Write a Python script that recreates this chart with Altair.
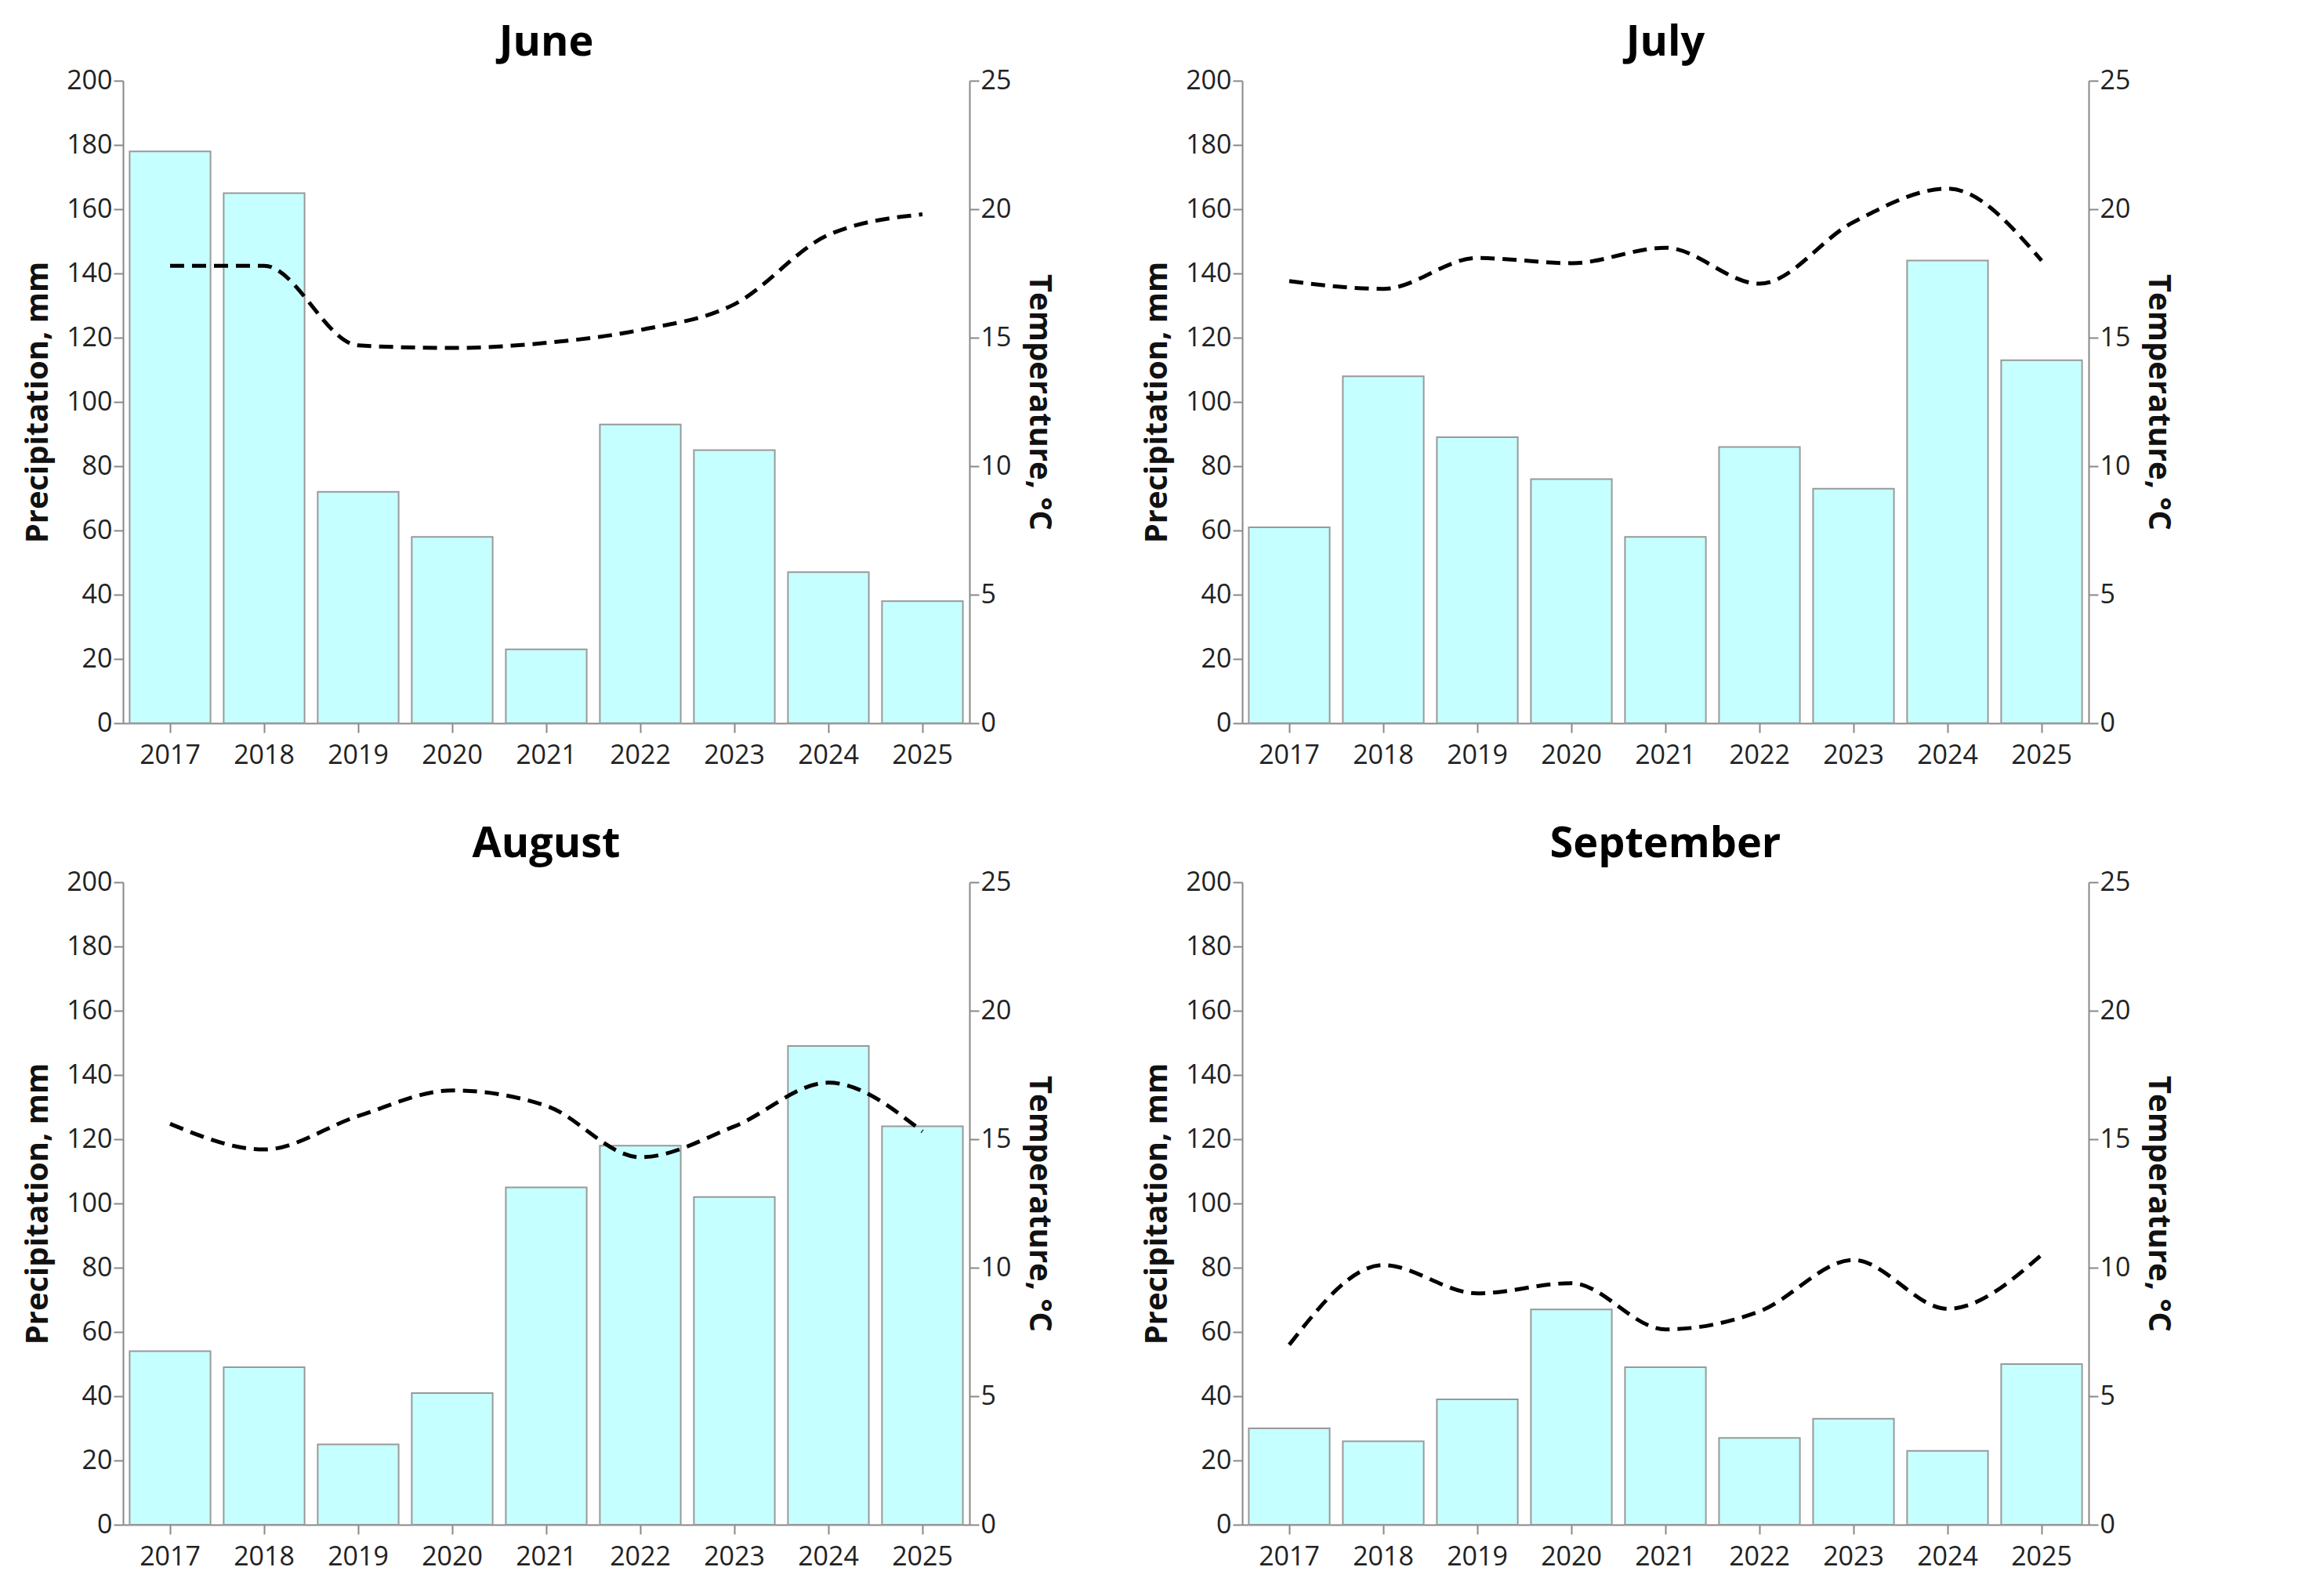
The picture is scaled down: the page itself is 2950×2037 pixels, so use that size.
import pandas as pd
import altair as alt

years = ['2017', '2018', '2019', '2020', '2021', '2022', '2023', '2024', '2025']
months = ['June', 'July', 'August', 'September']

precip = {
    'June': [178, 165, 72, 58, 23, 93, 85, 47, 38],
    'July': [61, 108, 89, 76, 58, 86, 73, 144, 113],
    'August': [54, 49, 25, 41, 105, 118, 102, 149, 124],
    'September': [30, 26, 39, 67, 49, 27, 33, 23, 50],
}
temp = {
    'June': [17.8, 17.8, 14.7, 14.6, 14.8, 15.3, 16.3, 19.0, 19.8],
    'July': [17.2, 16.9, 18.1, 17.9, 18.5, 17.1, 19.5, 20.8, 18.0],
    'August': [15.6, 14.6, 15.9, 16.9, 16.3, 14.3, 15.5, 17.2, 15.3],
    'September': [7.0, 10.1, 9.0, 9.4, 7.6, 8.3, 10.3, 8.4, 10.5],
}

FONT = 'Open Sans'
axis_common = dict(labelFont=FONT, titleFont=FONT, labelFontSize=34, titleFontSize=40,
                   titleFontWeight='bold', labelColor='#222', titleColor='#111',
                   domainColor='#888', tickColor='#888', tickSize=12, grid=False, domainWidth=2, tickWidth=2)


def panel(month):
    df = pd.DataFrame({'Year': years, 'Precipitation': precip[month], 'Temperature': temp[month]})
    x = alt.X('Year:N', sort=years, title=None,
              scale=alt.Scale(paddingInner=0.14, paddingOuter=0.07),
              axis=alt.Axis(labelAngle=0, labelPadding=12, **axis_common))
    bars = alt.Chart(df).mark_bar(color='#C6FFFF', stroke='#999999', strokeWidth=2).encode(
        x=x,
        y=alt.Y('Precipitation:Q', scale=alt.Scale(domain=[0, 200]),
                title='Precipitation, mm',
                axis=alt.Axis(values=list(range(0, 201, 20)), titlePadding=16, **axis_common)),
    )
    line = alt.Chart(df).mark_line(color='black', strokeDash=[18, 10], strokeWidth=5,
                                   interpolate='monotone').encode(
        x=x,
        y=alt.Y('Temperature:Q', scale=alt.Scale(domain=[0, 25]),
                title='Temperature, °C',
                axis=alt.Axis(orient='right', values=list(range(0, 26, 5)), titleAngle=90,
                              titlePadding=16, **axis_common)),
    )
    return alt.layer(bars, line).resolve_scale(y='independent').properties(
        width=1080, height=820,
        title=alt.TitleParams(month, font=FONT, fontSize=54, fontWeight='bold', offset=4),
    )


row1 = alt.hconcat(panel('June'), panel('July'), spacing=110)
row2 = alt.hconcat(panel('August'), panel('September'), spacing=110)
chart = alt.vconcat(row1, row2, spacing=70).configure_view(stroke=None).properties(
    background='white', padding={'left': 20, 'top': 20, 'right': 20, 'bottom': 10})

chart.save("out.html", embed_options={"renderer": "svg", "actions": False})
